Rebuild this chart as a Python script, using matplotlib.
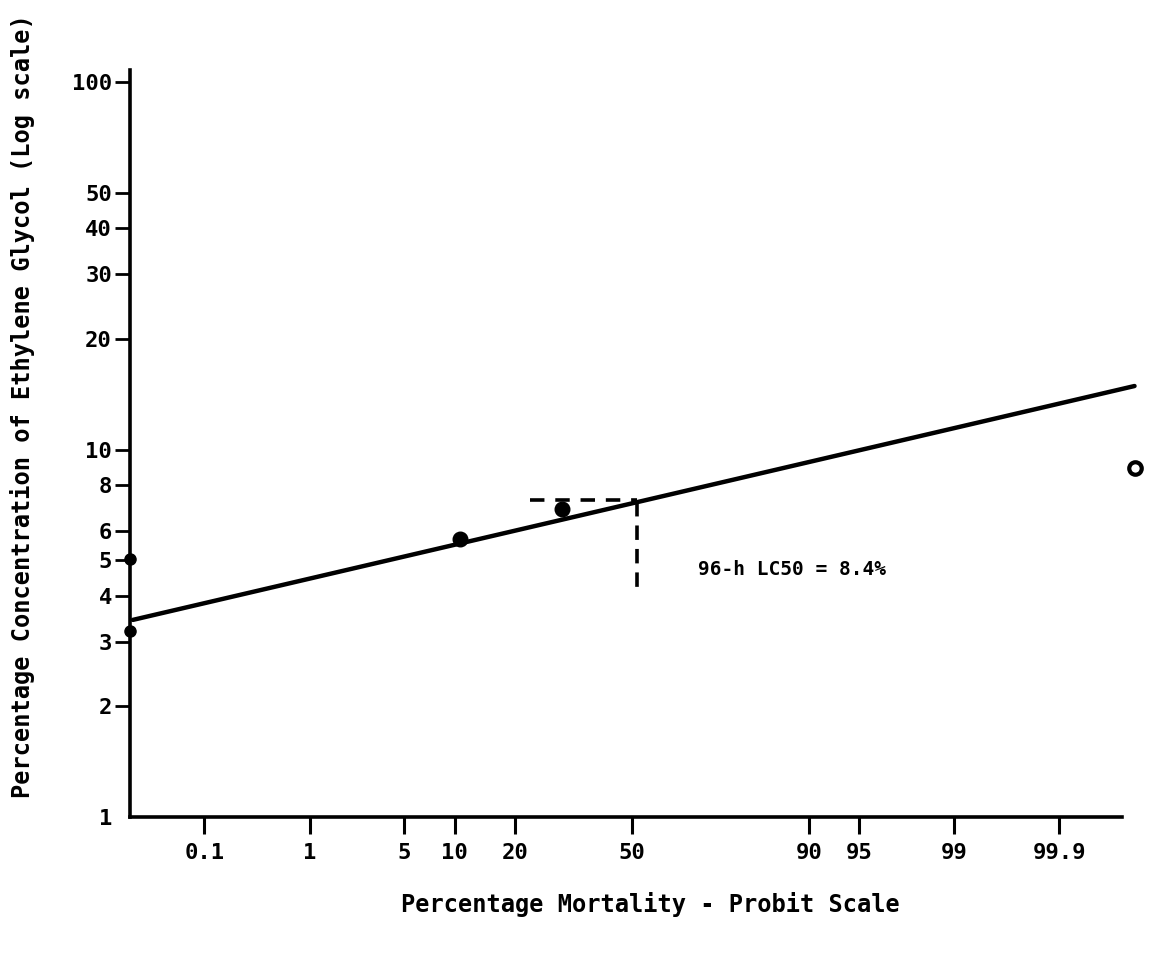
import numpy as np
import matplotlib
matplotlib.use("Agg")
import matplotlib.pyplot as plt
from matplotlib.ticker import FixedLocator, FixedFormatter, NullLocator
from statistics import NormalDist

# ---------------- data ----------------
x_ticks = [0.1, 1, 5, 10, 20, 50, 90, 95, 99, 99.9]
x_tick_labels = ["0.1", "1", "5", "10", "20", "50", "90", "95", "99", "99.9"]
y_ticks = [1, 2, 3, 4, 5, 6, 8, 10, 20, 30, 40, 50, 100]
y_tick_labels = ["1", "2", "3", "4", "5", "6", "8", "10", "20", "30", "40", "50", "100"]

# observed points (mortality %, concentration %)
obs_mortality = [0.0143, 0.0143, 10.7, 30.8]
obs_conc = [5.05, 3.2, 5.7, 6.9]
open_mortality = [99.986]
open_conc = [8.9]

# fitted probit line end points
fit_mortality = [0.0155, 99.986]
fit_conc = [3.44, 14.9]

# LC50 guide lines
lc50_mortality = 51.5
lc50_h_from = 23.0
lc50_h_conc = 7.3
lc50_v_low = 4.1
annotation = "96-h LC50 = 8.4%"

x_limits = [0.0143, 99.988]
y_limits = [1, 108]

# ---------------- probit scale ----------------
_nd = NormalDist()


def _fwd(p):
    a = np.asarray(p, dtype=float)
    flat = a.ravel()
    out = np.empty_like(flat)
    for i, v in enumerate(flat):
        if not np.isfinite(v):
            out[i] = np.nan
        else:
            q = min(max(v / 100.0, 1e-12), 1 - 1e-12)
            out[i] = _nd.inv_cdf(q)
    return out.reshape(a.shape)


def _inv(z):
    a = np.asarray(z, dtype=float)
    flat = a.ravel()
    out = np.empty_like(flat)
    for i, v in enumerate(flat):
        out[i] = np.nan if not np.isfinite(v) else _nd.cdf(v) * 100.0
    return out.reshape(a.shape)


plt.rcParams["font.family"] = ["DejaVu Sans Mono", "DejaVu Sans"]
plt.rcParams["font.weight"] = "bold"

fig = plt.figure(figsize=(11.51, 9.59), dpi=100)
ax = fig.add_axes([130 / 1151, 1 - 817 / 959, 1010 / 1151, (817 - 70) / 959])

ax.set_xscale("function", functions=(_fwd, _inv))
ax.set_yscale("log")
ax.set_xlim(*x_limits)
ax.set_ylim(*y_limits)

# fitted line
ax.plot(fit_mortality, fit_conc, color="black", lw=3.2, solid_capstyle="round", zorder=3)

# observed points
ax.plot(obs_mortality[:2], obs_conc[:2], "o", color="black", ms=8, clip_on=False, zorder=4)
ax.plot(obs_mortality[2:], obs_conc[2:], "o", color="black", ms=10.5, clip_on=False, zorder=4)
ax.plot(open_mortality, open_conc, "o", mfc="white", mec="black", mew=3, ms=9,
        clip_on=False, zorder=4)

# LC50 dashed guides
ax.plot([lc50_h_from, lc50_mortality], [lc50_h_conc, lc50_h_conc], color="black",
        lw=2.6, ls=(0, (4, 3)), zorder=2)
ax.plot([lc50_mortality, lc50_mortality], [lc50_h_conc * 0.985, lc50_v_low], color="black",
        lw=2.6, ls=(0, (4, 2.5)), zorder=2)

ax.text(0.562, 0.331, annotation, transform=ax.transAxes, ha="left", va="center",
        fontsize=14, fontweight="bold")

# axes styling
for s in ["top", "right"]:
    ax.spines[s].set_visible(False)
for s in ["left", "bottom"]:
    ax.spines[s].set_linewidth(2.6)
ax.spines["bottom"].set_bounds(x_limits[0], 99.98)

ax.xaxis.set_major_locator(FixedLocator(x_ticks))
ax.xaxis.set_major_formatter(FixedFormatter(x_tick_labels))
ax.xaxis.set_minor_locator(NullLocator())
ax.yaxis.set_major_locator(FixedLocator(y_ticks))
ax.yaxis.set_major_formatter(FixedFormatter(y_tick_labels))
ax.yaxis.set_minor_locator(NullLocator())

ax.tick_params(axis="x", direction="out", length=12, width=2.2, pad=7, labelsize=16)
ax.tick_params(axis="y", direction="out", length=11, width=2.0, pad=2, labelsize=16)
for lab in ax.get_xticklabels() + ax.get_yticklabels():
    lab.set_fontweight("bold")
ax.yaxis.get_major_ticks()[0].tick1line.set_visible(False)

ax.set_xlabel("Percentage Mortality - Probit Scale", fontsize=17, fontweight="bold")
ax.xaxis.set_label_coords(0.515, -0.1)
ax.set_ylabel("Percentage Concentration of Ethylene Glycol (Log scale)", fontsize=17,
              fontweight="bold")
ax.yaxis.set_label_coords(-0.094, 0.55)

fig.savefig("out.png", dpi=100)
